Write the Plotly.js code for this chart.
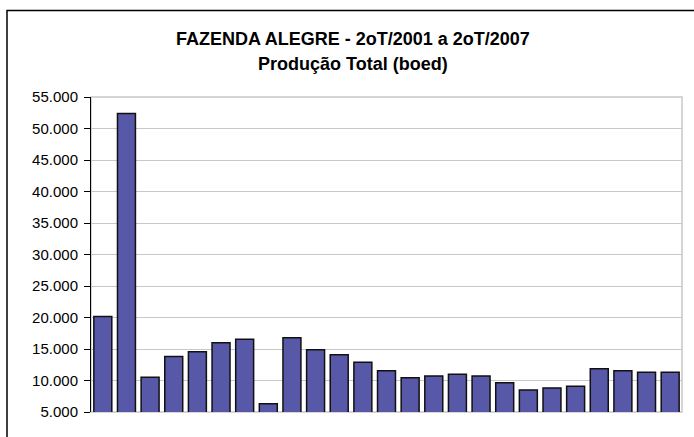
<!DOCTYPE html>
<html>
<head>
<meta charset="utf-8">
<script src="https://cdn.plot.ly/plotly-3.0.1.min.js"></script>
<style>html,body{margin:0;padding:0;background:#fff;}#chart{width:694px;height:437px;}</style>
</head>
<body>
<div id="chart"></div>
<script>
var quarters = ["2T01","3T01","4T01","1T02","2T02","3T02","4T02","1T03","2T03","3T03","4T03","1T04","2T04","3T04","4T04","1T05","2T05","3T05","4T05","1T06","2T06","3T06","4T06","1T07","2T07"];
var production = [20150, 52400, 10500, 13800, 14550, 16000, 16550, 6300, 16800, 14900, 14100, 12900, 11550, 10450, 10700, 11000, 10700, 9650, 8500, 8800, 9100, 11850, 11550, 11300, 11300];
var titleLine1 = "FAZENDA ALEGRE - 2oT/2001 a 2oT/2007";
var titleLine2 = "Produção Total (boed)";
var yTicks = [5000,10000,15000,20000,25000,30000,35000,40000,45000,50000,55000];

var trace = {
  type: 'bar',
  x: quarters,
  y: production,
  marker: {color: '#5858a8', line: {color: '#111111', width: 1.5}},
  hoverinfo: 'y'
};

var layout = {
  width: 694, height: 437,
  margin: {l: 91, r: 12, t: 97, b: 25, pad: 0},
  paper_bgcolor: '#ffffff', plot_bgcolor: '#ffffff',
  separators: ',.',
  bargap: 0.24,
  showlegend: false,
  font: {family: 'Liberation Sans, Arial, sans-serif', color: '#000'},
  xaxis: {type: 'category', showticklabels: false, ticks: '', showgrid: false, zeroline: false, showline: false, fixedrange: true},
  yaxis: {range: [5000, 55000], tickvals: yTicks, tickformat: ',d', showline: true, linecolor: '#000', linewidth: 1,
          ticks: 'outside', ticklen: 6, tickcolor: '#000', tickwidth: 1, ticklabelstandoff: 3,
          showgrid: true, gridcolor: '#c8c8c8', gridwidth: 1, zeroline: false,
          tickfont: {size: 15, color: '#000'}, fixedrange: true},
  shapes: [
    {type: 'rect', xref: 'paper', yref: 'paper', x0: 0, x1: 1, y0: 0, y1: 1, line: {color: '#c8c8c8', width: 1.5}, layer: 'below'},
    {type: 'rect', xref: 'paper', yref: 'paper', x0: (7-91)/591, x1: (710-91)/591, y0: (412-460)/315, y1: (412-10.5)/315, line: {color: '#000', width: 1.5}}
  ],
  annotations: [
    {text: '<b>' + titleLine1 + '</b>', xref: 'paper', yref: 'paper', x: (353-91)/591, y: (412-38.5)/315, xanchor: 'center', yanchor: 'middle', showarrow: false, font: {size: 18, color: '#000'}},
    {text: '<b>' + titleLine2 + '</b>', xref: 'paper', yref: 'paper', x: (353-91)/591, y: (412-64)/315, xanchor: 'center', yanchor: 'middle', showarrow: false, font: {size: 18, color: '#000'}}
  ]
};

Plotly.newPlot('chart', [trace], layout, {displayModeBar: false, staticPlot: true});
</script>
</body>
</html>
